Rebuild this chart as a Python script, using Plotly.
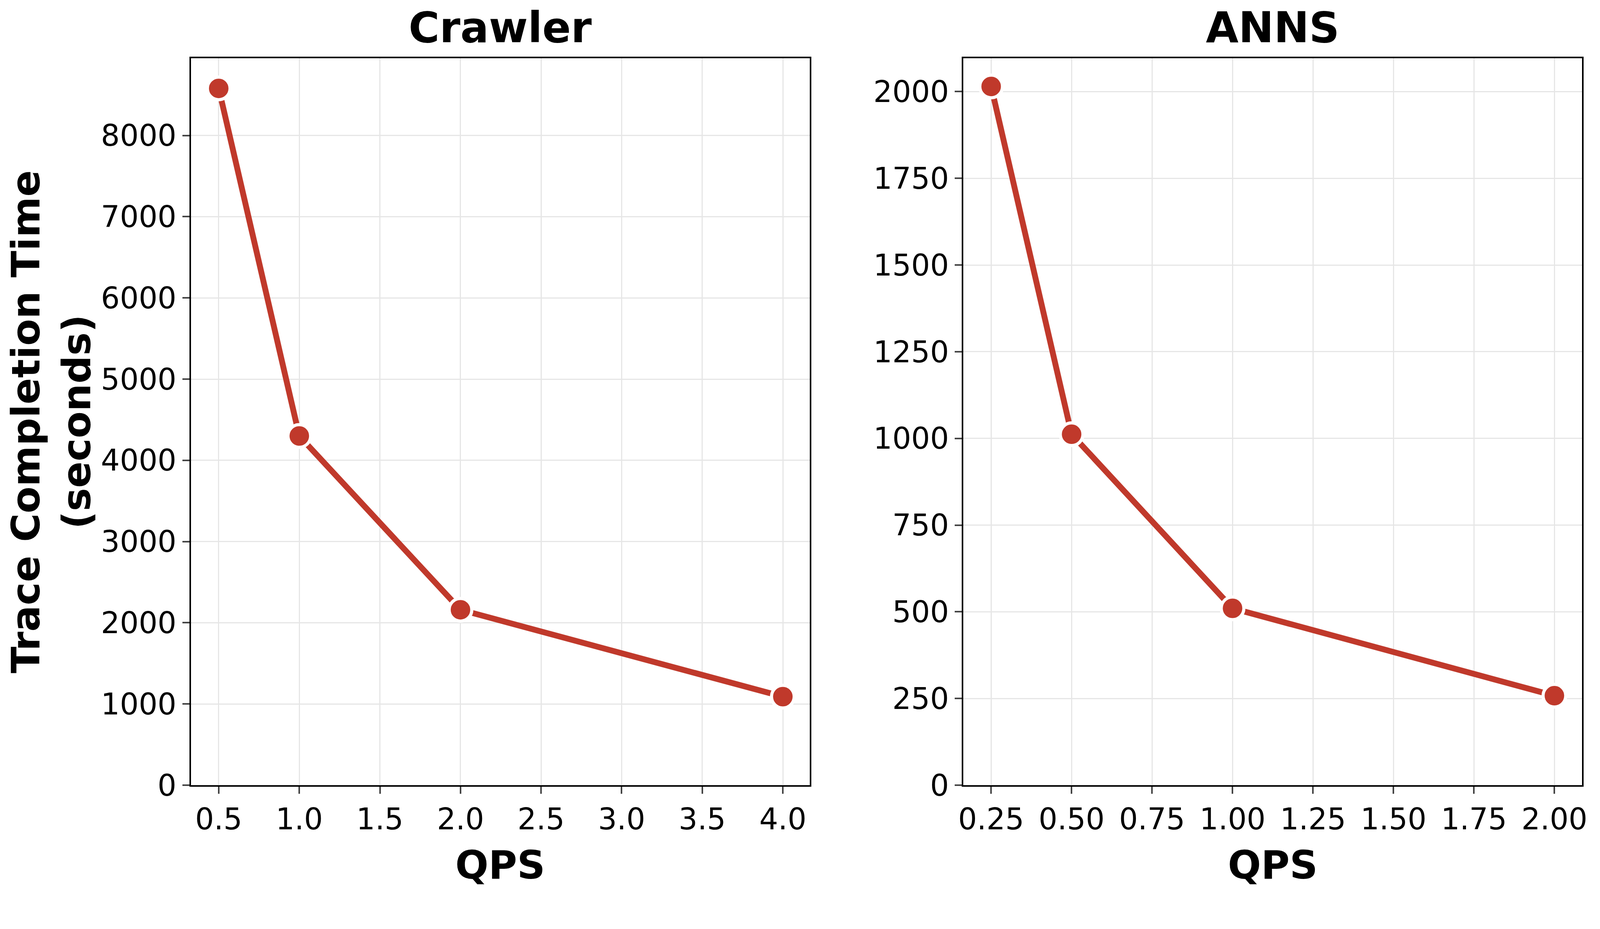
import plotly.graph_objects as go

crawler_qps = [0.5, 1.0, 2.0, 4.0]
crawler_time = [8580, 4300, 2160, 1090]
anns_qps = [0.25, 0.5, 1.0, 2.0]
anns_time = [2015, 1012, 510, 258]

color = "#c0392b"
fig = go.Figure()
for x, y, xa, ya in [(crawler_qps, crawler_time, "x", "y"), (anns_qps, anns_time, "x2", "y2")]:
    fig.add_trace(go.Scatter(x=x, y=y, xaxis=xa, yaxis=ya, mode="lines+markers",
                             line=dict(color=color, width=15),
                             marker=dict(color=color, size=58, line=dict(color="white", width=8)),
                             showlegend=False))

font = dict(family="DejaVu Sans", color="black")
common = dict(showline=True, linecolor="black", linewidth=4, mirror=True,
              showgrid=True, gridcolor="#e6e6e6", gridwidth=3, zeroline=False,
              ticks="outside", ticklen=18, tickwidth=4, tickfont=dict(size=76, **font))
fig.update_layout(
    autosize=True, plot_bgcolor="white", paper_bgcolor="white",
    margin=dict(l=0, r=0, t=0, b=0),
    xaxis=dict(domain=[0.099, 0.497], range=[0.328, 4.166], tickvals=[0.5,1,1.5,2,2.5,3,3.5,4],
               ticktext=["0.5","1.0","1.5","2.0","2.5","3.0","3.5","4.0"],
               title=dict(text="<b>QPS</b>", font=dict(size=100, **font), standoff=40), **common),
    yaxis=dict(domain=[0.136, 0.939], range=[0, 8950], dtick=1000,
               title=dict(text="<b>Trace Completion Time<br>(seconds)</b>", font=dict(size=100, **font), standoff=50), **common),
    xaxis2=dict(domain=[0.596, 0.994], range=[0.164, 2.086], anchor="y2",
                tickvals=[0.25,0.5,0.75,1,1.25,1.5,1.75,2],
                ticktext=["0.25","0.50","0.75","1.00","1.25","1.50","1.75","2.00"],
                title=dict(text="<b>QPS</b>", font=dict(size=100, **font), standoff=40), **common),
    yaxis2=dict(domain=[0.136, 0.939], range=[0, 2096], dtick=250, anchor="x2", **common),
    annotations=[
        dict(text="<b>Crawler</b>", x=0.298, y=0.945, xref="paper", yref="paper", xanchor="center", yanchor="bottom",
             showarrow=False, font=dict(size=108, **font)),
        dict(text="<b>ANNS</b>", x=0.795, y=0.945, xref="paper", yref="paper", xanchor="center", yanchor="bottom",
             showarrow=False, font=dict(size=108, **font)),
    ],
)
fig.write_html("out.html", default_width="100%", default_height="100%", config={"responsive": True})
